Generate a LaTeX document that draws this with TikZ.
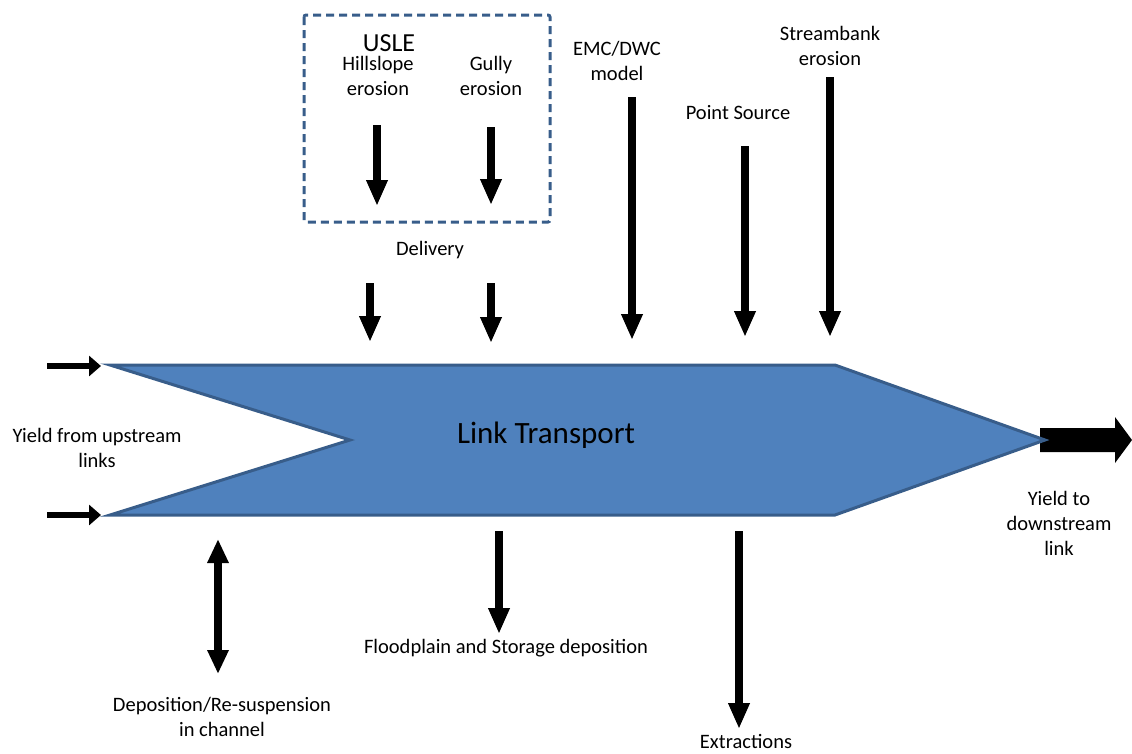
\documentclass[tikz,border=0pt]{standalone}
\usepackage{fontspec}
\setmainfont{Carlito}
\usetikzlibrary{arrows.meta}
\definecolor{linkfill}{HTML}{4F81BD}
\definecolor{linkedge}{HTML}{385D8A}
\tikzset{
  lbl/.style={inner sep=0pt, align=center, font=\fontsize{20.5}{25}\selectfont},
  blk/.style={line width=8.5pt, -{Triangle[length=26pt,width=20pt]}},
  blkin/.style={line width=6pt, -{Triangle[length=12pt,width=20pt]}},
  blkboth/.style={line width=8.5pt, {Triangle[length=24pt,width=20pt]}-{Triangle[length=24pt,width=20pt]}},
}
\begin{document}
\begin{tikzpicture}[x=1pt,y=-1pt]
\useasboundingbox (0,0) rectangle (1132,753);
% main link shape
\coordinate (tl) at (110,365);
\coordinate (tr) at (835,365);
\coordinate (tip) at (1045,440);
\coordinate (br) at (835,515);
\coordinate (bl) at (110,515);
\coordinate (notch) at (350,440);
% downstream block arrow
\fill[black] (1040,428) -- (1115,428) -- (1115,417) -- (1132,440) -- (1115,463) -- (1115,452) -- (1040,452) -- cycle;
\filldraw[fill=linkfill, draw=linkedge, line width=3pt, line join=miter]
  (tl) -- (tr) -- (tip) -- (br) -- (bl) -- (notch) -- cycle;
\node[lbl, font=\fontsize{31}{36}\selectfont] (lt) at (546,435) {Link Transport};

% USLE group
\draw[linkedge, line width=3pt, dash pattern=on 8pt off 5pt, rounded corners=2pt] (304,15) rectangle (550,222);
\node[lbl, font=\fontsize{26}{30}\selectfont] (usle) at (389,43) {USLE};
\node[lbl] (hill) at (378,76) {Hillslope\\erosion};
\node[lbl] (gully) at (491,76) {Gully\\erosion};
\coordinate (h1) at (377,125); \coordinate (h2) at (377,206);
\coordinate (g1) at (491,127); \coordinate (g2) at (491,205);
\draw[blk] (h1) -- (h2);
\draw[blk] (g1) -- (g2);

\node[lbl] (deliv) at (430,250) {Delivery};
\coordinate (d1a) at (370,283); \coordinate (d1b) at (370,342);
\coordinate (d2a) at (491,283); \coordinate (d2b) at (491,343);
\draw[blk] (d1a) -- (d1b);
\draw[blk] (d2a) -- (d2b);

\node[lbl] (emc) at (617,61) {EMC/DWC\\model};
\coordinate (e1) at (632,97); \coordinate (e2) at (632,340);
\draw[blk] (e1) -- (e2);
\node[lbl] (ps) at (738,113) {Point Source};
\coordinate (p1) at (745,146); \coordinate (p2) at (745,337);
\draw[blk] (p1) -- (p2);
\node[lbl] (sb) at (830,46) {Streambank\\erosion};
\coordinate (s1) at (830,77); \coordinate (s2) at (830,337);
\draw[blk] (s1) -- (s2);

% upstream
\coordinate (u1a) at (47,366); \coordinate (u1b) at (101,366);
\coordinate (u2a) at (47,515); \coordinate (u2b) at (101,515);
\draw[blkin] (u1a) -- (u1b);
\draw[blkin] (u2a) -- (u2b);
\node[lbl] (yu) at (97,448) {Yield from upstream\\links};
\node[lbl] (yd) at (1059,523) {Yield to\\downstream\\link};

% below
\coordinate (r1) at (218,539); \coordinate (r2) at (218,674);
\draw[blkboth] (r1) -- (r2);
\node[lbl] (dep) at (222,717) {Deposition/Re-suspension\\in channel};
\coordinate (f1) at (499,531); \coordinate (f2) at (499,634);
\draw[blk] (f1) -- (f2);
\node[lbl] (flood) at (506,648) {Floodplain and Storage deposition};
\coordinate (x1) at (739,531); \coordinate (x2) at (739,729);
\draw[blk] (x1) -- (x2);
\node[lbl] (ext) at (746,741) {Extractions};
\end{tikzpicture}
\end{document}
